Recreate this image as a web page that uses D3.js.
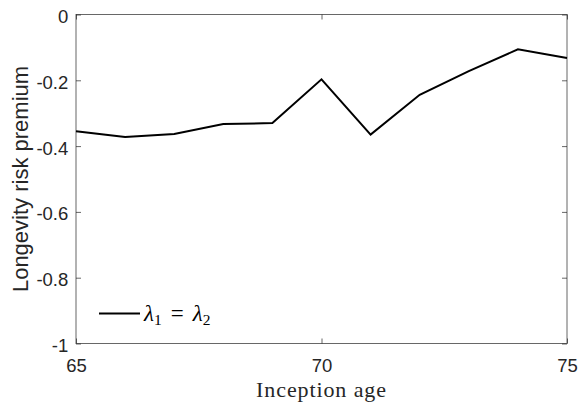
<!DOCTYPE html>
<html><head><meta charset="utf-8">
<script src="https://cdn.jsdelivr.net/npm/d3@7"></script>
<style>body{margin:0;background:#fff}</style>
</head><body>
<script>
const ages = [65,66,67,68,69,70,71,72,73,74,75];
const premium = [-0.355,-0.372,-0.363,-0.333,-0.330,-0.197,-0.365,-0.244,-0.172,-0.106,-0.132];
const xTicks = [65,70,75];
const yTicks = [0,-0.2,-0.4,-0.6,-0.8,-1];
const yTickLabels = ["0","-0.2","-0.4","-0.6","-0.8","-1"];

const W=578,H=405;
const m={l:76,r:567,t:14.5,b:343.5};
const svg=d3.select("body").append("svg").attr("width",W).attr("height",H);
const x=d3.scaleLinear().domain([65,75]).range([m.l,m.r]);
const y=d3.scaleLinear().domain([-1,0]).range([m.b,m.t]);
const ac="#262626";
const sans="Liberation Sans, Arial, sans-serif";
const serif="Liberation Serif, serif";

// box
svg.append("rect").attr("x",m.l).attr("y",m.t).attr("width",m.r-m.l).attr("height",m.b-m.t)
  .attr("fill","none").attr("stroke",ac).attr("stroke-opacity",0.7).attr("stroke-width",1);

const gx=svg.append("g").attr("transform",`translate(0,${m.b})`)
  .call(d3.axisBottom(x).tickValues(xTicks).tickSizeInner(-5).tickSizeOuter(0).tickFormat(d3.format("d")));
const gxt=svg.append("g").attr("transform",`translate(0,${m.t})`)
  .call(d3.axisTop(x).tickValues(xTicks).tickSizeInner(-5).tickSizeOuter(0).tickFormat(""));
const gy=svg.append("g").attr("transform",`translate(${m.l},0)`)
  .call(d3.axisLeft(y).tickValues(yTicks).tickSizeInner(-5).tickSizeOuter(0).tickPadding(8).tickFormat((d,i)=>yTickLabels[i]));
const gyr=svg.append("g").attr("transform",`translate(${m.r},0)`)
  .call(d3.axisRight(y).tickValues(yTicks).tickSizeInner(-5).tickSizeOuter(0).tickFormat(""));
[gx,gxt,gy,gyr].forEach(g=>{
  g.select(".domain").remove();
  g.selectAll("line").attr("stroke",ac).attr("stroke-opacity",0.7);
  g.selectAll("text").attr("font-family",sans).attr("font-size",18.5).attr("fill","#262626");
});
gx.selectAll("text").attr("y",28.2).attr("dy",0);
gy.selectAll("text").attr("x",-7.7).attr("dy","0.43em");

// line
svg.append("path").datum(ages.map((a,i)=>[a,premium[i]]))
  .attr("fill","none").attr("stroke","#000").attr("stroke-width",2)
  .attr("d",d3.line().x(d=>x(d[0])).y(d=>y(d[1])));

// labels
svg.append("text").attr("x",(m.l+m.r)/2).attr("y",397.3).attr("text-anchor","middle")
  .attr("font-family",serif).attr("font-size",22).attr("letter-spacing",0.9).attr("fill","#262626").text("Inception age");
svg.append("text").attr("transform",`translate(27.5,${(m.t+m.b)/2}) rotate(-90)`).attr("text-anchor","middle")
  .attr("font-family",sans).attr("font-size",22).attr("fill","#262626").text("Longevity risk premium");

// legend
svg.append("line").attr("x1",99).attr("x2",140).attr("y1",313.5).attr("y2",313.5).attr("stroke","#000").attr("stroke-width",2);
const lt=svg.append("text").attr("x",144).attr("y",321).attr("font-family",serif).attr("font-size",23).attr("fill","#000");
lt.append("tspan").attr("font-style","italic").text("λ");
lt.append("tspan").attr("font-size",15.5).attr("dy",4).text("1");
lt.append("tspan").attr("dy",-4).attr("dx",9).text("=");
lt.append("tspan").attr("dx",9).attr("font-style","italic").text("λ");
lt.append("tspan").attr("font-size",15.5).attr("dy",4).text("2");
</script>
</body></html>
